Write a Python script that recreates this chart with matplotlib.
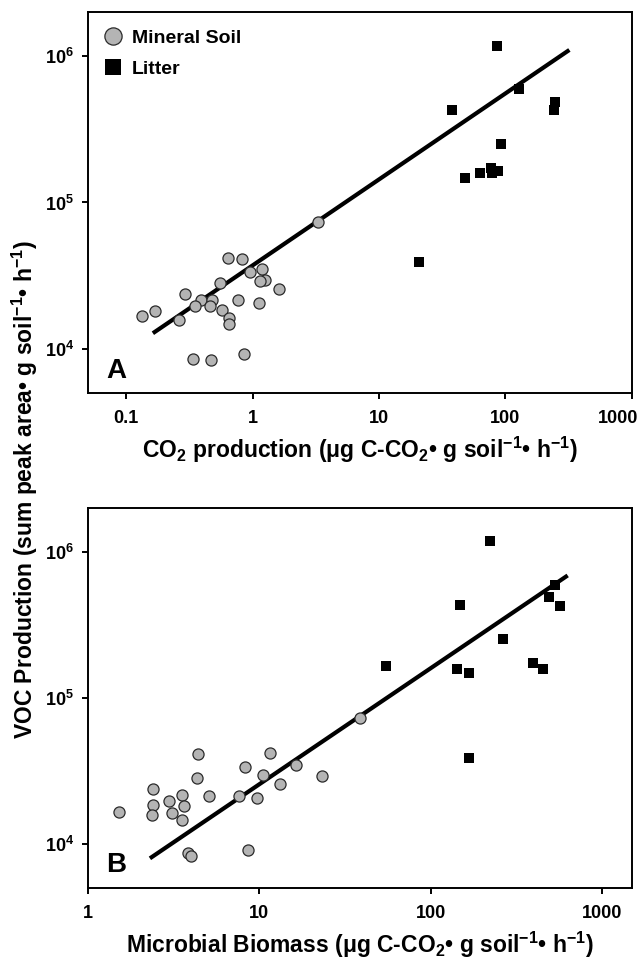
import numpy as np
import matplotlib
matplotlib.use("Agg")
from matplotlib import pyplot as plt
from matplotlib.transforms import ScaledTranslation

plt.rcParams['font.family'] = ['Liberation Sans', 'DejaVu Sans']
plt.rcParams['font.weight'] = 'bold'
plt.rcParams['mathtext.fontset'] = 'custom'
plt.rcParams['mathtext.rm'] = 'Liberation Sans:bold'
plt.rcParams['mathtext.it'] = 'Liberation Sans:bold'
plt.rcParams['mathtext.bf'] = 'Liberation Sans:bold'
plt.rcParams['mathtext.default'] = 'rm'

# panel A: CO2 production vs VOC production
a_soil_x = [3.27, 0.64, 0.82, 1.19, 0.957, 1.25, 1.15, 0.557, 1.63, 0.291, 0.393, 0.482,
            0.762, 1.12, 0.351, 0.463, 0.569, 0.168, 0.133, 0.261, 0.655, 0.655, 0.34,
            0.473, 0.86]
a_soil_y = [7.3e4, 4.17e4, 4.13e4, 3.51e4, 3.33e4, 2.97e4, 2.89e4, 2.82e4, 2.55e4, 2.38e4,
            2.17e4, 2.17e4, 2.15e4, 2.06e4, 1.97e4, 1.97e4, 1.85e4, 1.81e4, 1.67e4, 1.58e4,
            1.63e4, 1.47e4, 8.6e3, 8.4e3, 9.2e3]
a_litter_x = [86, 127, 248, 244, 37.8, 93, 47.5, 63, 76.5, 78.5, 88, 20.6]
a_litter_y = [1.17e6, 5.93e5, 4.89e5, 4.28e5, 4.28e5, 2.51e5, 1.47e5, 1.58e5, 1.71e5,
              1.58e5, 1.65e5, 3.9e4]
a_fit_x = [0.163, 320]
a_fit_y = [1.28e4, 1.1e6]

# panel B: microbial biomass vs VOC production
b_soil_x = [38.5, 4.39, 11.5, 8.28, 16.4, 10.5, 23.1, 4.35, 13.3, 2.39, 3.53, 5.06, 7.64,
            9.68, 2.98, 2.41, 2.37, 3.1, 3.64, 3.55, 1.51, 3.85, 3.98, 8.64]
b_soil_y = [7.33e4, 4.11e4, 4.2e4, 3.37e4, 3.47e4, 2.97e4, 2.94e4, 2.82e4, 2.56e4, 2.38e4,
            2.17e4, 2.12e4, 2.12e4, 2.06e4, 1.97e4, 1.85e4, 1.58e4, 1.62e4, 1.83e4, 1.47e4,
            1.66e4, 8.67e3, 8.32e3, 9.14e3]
b_litter_x = [221, 531, 494, 570, 148, 264, 54.8, 143, 167, 394, 454, 168]
b_litter_y = [1.18e6, 5.97e5, 4.89e5, 4.29e5, 4.33e5, 2.52e5, 1.66e5, 1.58e5, 1.48e5,
              1.74e5, 1.58e5, 3.9e4]
b_fit_x = [2.3, 632]
b_fit_y = [7.98e3, 6.89e5]

a_xticks = [0.1, 1, 10, 100, 1000]
a_xticklabels = ['0.1', '1', '10', '100', '1000']
b_xticks = [1, 10, 100, 1000]
b_xticklabels = ['1', '10', '100', '1000']
yticks = [1e4, 1e5, 1e6]
yticklabels = ['10$^4$', '10$^5$', '10$^6$']

fig = plt.figure(figsize=(6.44, 9.6), dpi=100)
ax_a = fig.add_axes([0.1366, 0.5906, 0.8447, 0.397])
ax_b = fig.add_axes([0.1366, 0.075, 0.8447, 0.396])

soil_style = dict(ls='none', marker='o', ms=8, mfc='#b4b4b4', mec='#2a2a2a', mew=0.9)
litter_style = dict(ls='none', marker='s', ms=7.6, mfc='black', mec='black', mew=0)

panels = [
    (ax_a, a_soil_x, a_soil_y, a_litter_x, a_litter_y, a_fit_x, a_fit_y,
     (0.05, 1000), a_xticks, a_xticklabels, 'A', 0.039,
     'CO$_2$ production (μg C-CO$_2$• g soil$^{-1}$• h$^{-1}$)'),
    (ax_b, b_soil_x, b_soil_y, b_litter_x, b_litter_y, b_fit_x, b_fit_y,
     (1, 1500), b_xticks, b_xticklabels, 'B', 0.042,
     'Microbial Biomass (μg C-CO$_2$• g soil$^{-1}$• h$^{-1}$)'),
]

for ax, sx, sy, lx, ly, fx, fy, xlim, xt, xtl, letter, ly_letter, xlabel in panels:
    ax.set_xscale('log')
    ax.set_yscale('log')
    ax.plot(fx, fy, color='black', lw=3, solid_capstyle='butt', zorder=2)
    h_soil, = ax.plot(sx, sy, zorder=3, label='Mineral Soil', **soil_style)
    h_lit, = ax.plot(lx, ly, zorder=3, label='Litter', **litter_style)
    ax.set_xlim(*xlim)
    ax.set_ylim(5000, 2e6)
    ax.set_xticks(xt)
    ax.set_xticklabels(xtl)
    ax.set_yticks(yticks)
    ax.set_yticklabels(yticklabels)
    ax.minorticks_off()
    ax.tick_params(direction='out', length=4, width=1.4, labelsize=13)
    ax.tick_params(axis='x', pad=8)
    ax.tick_params(axis='y', pad=6)
    for sp in ax.spines.values():
        sp.set_linewidth(1.4)
    ax.set_xlabel(xlabel, fontsize=16.5, fontweight='bold', labelpad=6)
    ax.text(0.033, ly_letter, letter, transform=ax.transAxes, fontsize=20,
            fontweight='bold', ha='left', va='baseline')
    if letter == 'A':
        ax.legend(handles=[h_soil, h_lit], loc='upper left', frameon=False,
                  prop={'size': 14, 'weight': 'bold'}, markerscale=1.55,
                  handlelength=0.8, handletextpad=0.55, labelspacing=0.7,
                  borderaxespad=0.55, borderpad=0.35)

# nudge the right-most label of panel A so it stays inside the figure
last = ax_a.get_xticklabels()[-1]
last.set_transform(last.get_transform() + ScaledTranslation(-10 / 72, 0, fig.dpi_scale_trans))

fig.text(0.039, 0.49, 'VOC Production (sum peak area• g soil$^{-1}$• h$^{-1}$)',
         rotation=90, ha='center', va='center', fontsize=16.5, fontweight='bold')

fig.savefig('out.png', dpi=100)
